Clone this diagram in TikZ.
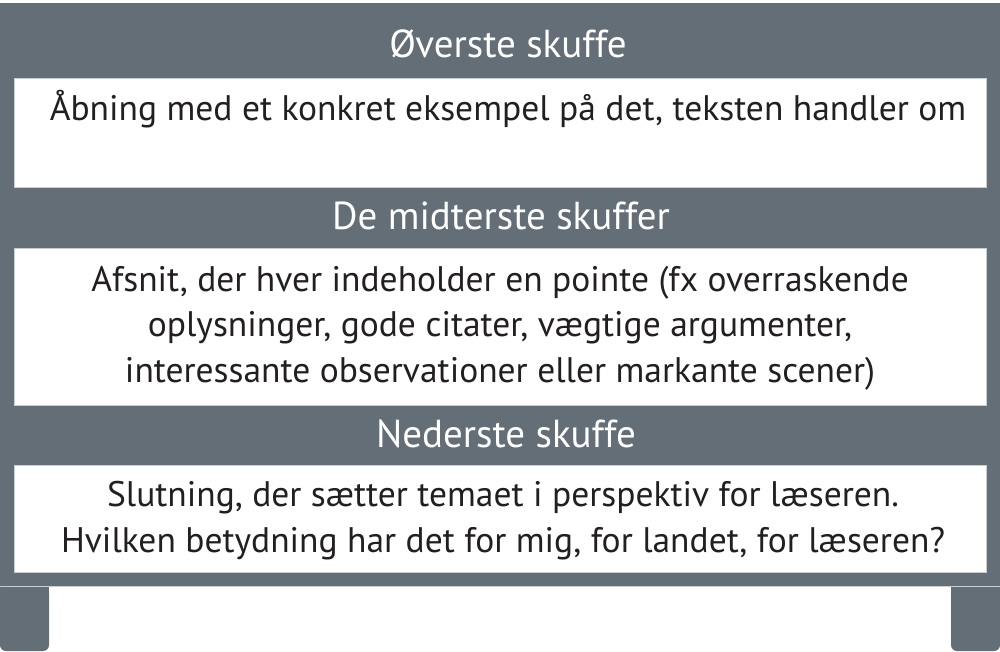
\documentclass[tikz,border=0pt]{standalone}
\usepackage{fontspec}
\setmainfont{PT Sans}
\definecolor{cab}{HTML}{636E76}
\definecolor{ink}{HTML}{231F20}
\definecolor{edge}{HTML}{C9CDD0}
\tikzset{
  drawer/.style={fill=white, draw=edge, line width=0.8pt},
  title/.style={text=white, anchor=base, inner sep=0pt, font=\fontsize{39}{44}\selectfont},
  body/.style={text=ink, anchor=base, inner sep=0pt, align=center, font=\fontsize{35.5}{45.5}\selectfont},
}
\begin{document}
\begin{tikzpicture}[x=1pt,y=-1pt]
\useasboundingbox (0,0) rectangle (1000,651);
% cabinet
\fill[cab] (0,3) rectangle (1000,586);
\draw[edge, line width=0.8pt] (0,586) -- (1000,586);
% legs
\fill[cab, rounded corners=6pt] (0,590) -- (0,651) -- (49,651) -- (49,587) -- (0,587) -- cycle;
\fill[cab] (0,587) rectangle (49,620);
\fill[cab, rounded corners=6pt] (951,590) -- (951,651) -- (1000,651) -- (1000,587) -- (951,587) -- cycle;
\fill[cab] (951,587) rectangle (1000,620);
% drawers
\path[drawer] (14,78) rectangle (986,187);
\path[drawer] (14,248) rectangle (986,405);
\path[drawer] (14,465) rectangle (986,572);
% titles
\node[title] (t1) at (508,57) {Øverste skuffe};
\node[title] (t2) at (501,229) {De midterste skuffer};
\node[title] (t3) at (506,447) {Nederste skuffe};
% texts
\node[body] (b1) at (508,120) {Åbning med et konkret eksempel på det, teksten handler om};
\node[body] (b2) at (500,382) {Afsnit, der hver indeholder en pointe (fx overraskende\\oplysninger, gode citater, vægtige argumenter,\\interessante observationer eller markante scener)};
\node[body] (b3) at (503,552) {Slutning, der sætter temaet i perspektiv for læseren.\\Hvilken betydning har det for mig, for landet, for læseren?};
\end{tikzpicture}
\end{document}
